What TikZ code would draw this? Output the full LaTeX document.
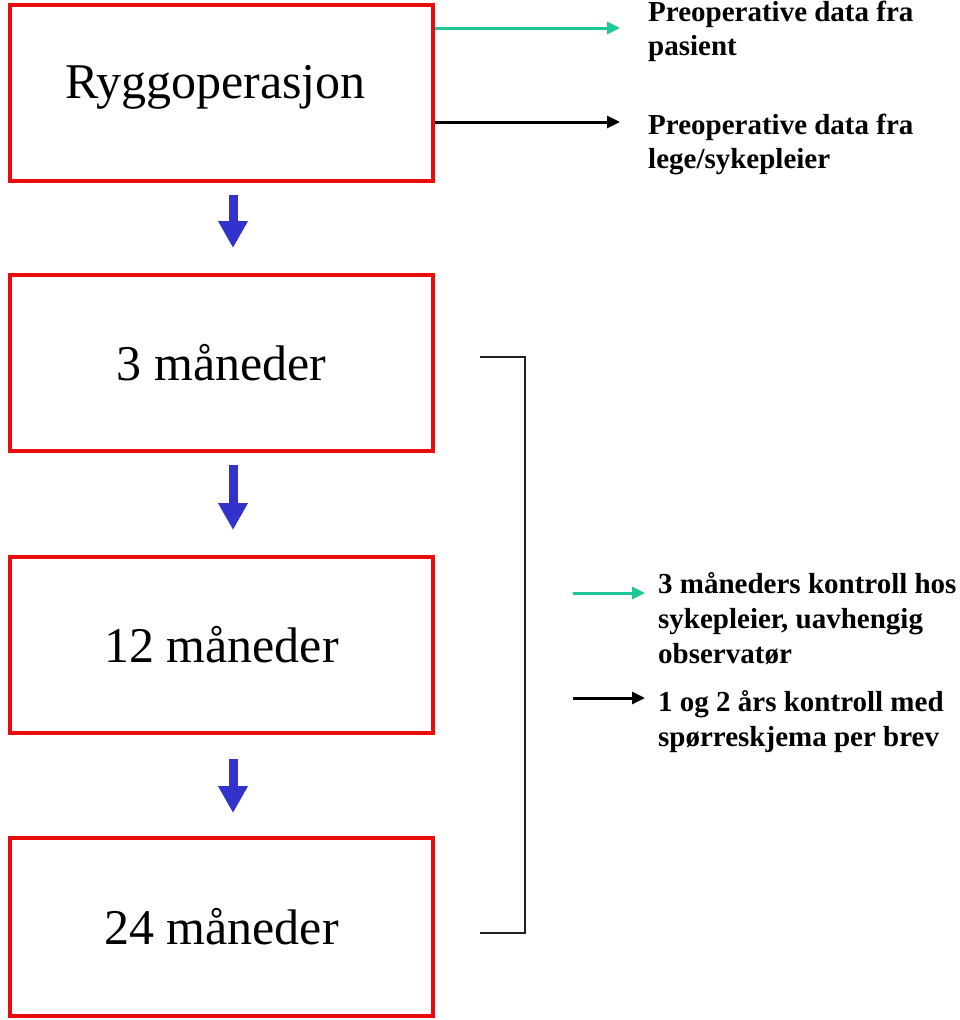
\documentclass[tikz,border=0pt]{standalone}
\usepackage{fontspec}
\setmainfont{Liberation Serif}
\usetikzlibrary{arrows.meta,calc}
\definecolor{boxred}{RGB}{232,12,12}
\definecolor{flowblue}{RGB}{51,51,204}
\definecolor{tealc}{RGB}{30,200,150}
\definecolor{brk}{RGB}{34,34,34}
\begin{document}
\begin{tikzpicture}[x=1pt,y=1pt,
  stagebox/.style={draw=boxred, line width=4pt, minimum width=423pt, minimum height=176pt, inner sep=0pt, font=\fontsize{50}{60}\selectfont},
  flow/.style={draw=flowblue, line width=9pt, -{Triangle[width=28pt,length=27pt]}, flowblue},
  tealarrow/.style={draw=tealc, line width=3pt, -{Triangle[width=12pt,length=13pt]}, tealc},
  blackarrow/.style={draw=black, line width=3pt, -{Triangle[width=12pt,length=13pt]}},
  note/.style={font=\bfseries\fontsize{29}{34}\selectfont, align=left, inner sep=0pt, anchor=base west},
  bracket/.style={draw=brk, line width=2pt}]
\useasboundingbox (0,0) rectangle (960,-1020);
\node[stagebox] (r1) at (221.5,-93) {\raisebox{22pt}{\hspace*{-12pt}Ryggoperasjon}};
\node[stagebox] (r2) at (221.5,-363) {\raisebox{1pt}{3 måneder}};
\node[stagebox] (r3) at (221.5,-645) {12 måneder};
\node[stagebox, minimum height=178pt] (r4) at (221.5,-927) {24 måneder};
% flow arrows
\draw[flow] ($(r1.south)+(11.5,-12)$) -- ($(r2.north)+(11.5,25)$);
\draw[flow] ($(r2.south)+(11.5,-12)$) -- ($(r3.north)+(11.5,25)$);
\draw[flow] ($(r3.south)+(11.5,-24)$) -- ($(r4.north)+(11.5,23)$);
% top notes (base = last line)
\node[note] (n1) at (648,-55) {Preoperative data fra\\pasient};
\node[note] (n2) at (648,-168) {Preoperative data fra\\lege/sykepleier};
\coordinate (a1) at (620,-28);
\coordinate (a2) at (620,-122);
\draw[tealarrow] (r1.east |- a1) -- (a1);
\draw[blackarrow] (r1.east |- a2) -- (a2);
% bracket
\coordinate (b1) at (480,-357);
\coordinate (b2) at (525,-933);
\coordinate (b3) at (480,-933);
\draw[bracket] (b1) -| (b2) -- (b3);
% middle notes
\node[note, font=\bfseries\fontsize{29}{35}\selectfont] (n3) at (658,-663) {3 måneders kontroll hos\\sykepleier, uavhengig\\observatør};
\node[note, font=\bfseries\fontsize{29}{35}\selectfont] (n4) at (658,-746) {1 og 2 års kontroll med\\spørreskjema per brev};
\coordinate (m1s) at (573,-593);
\coordinate (m1e) at (645,-593);
\coordinate (m2s) at (573,-698);
\coordinate (m2e) at (645,-698);
\draw[tealarrow] (m1s) -- (m1e);
\draw[blackarrow] (m2s) -- (m2e);
\end{tikzpicture}
\end{document}
